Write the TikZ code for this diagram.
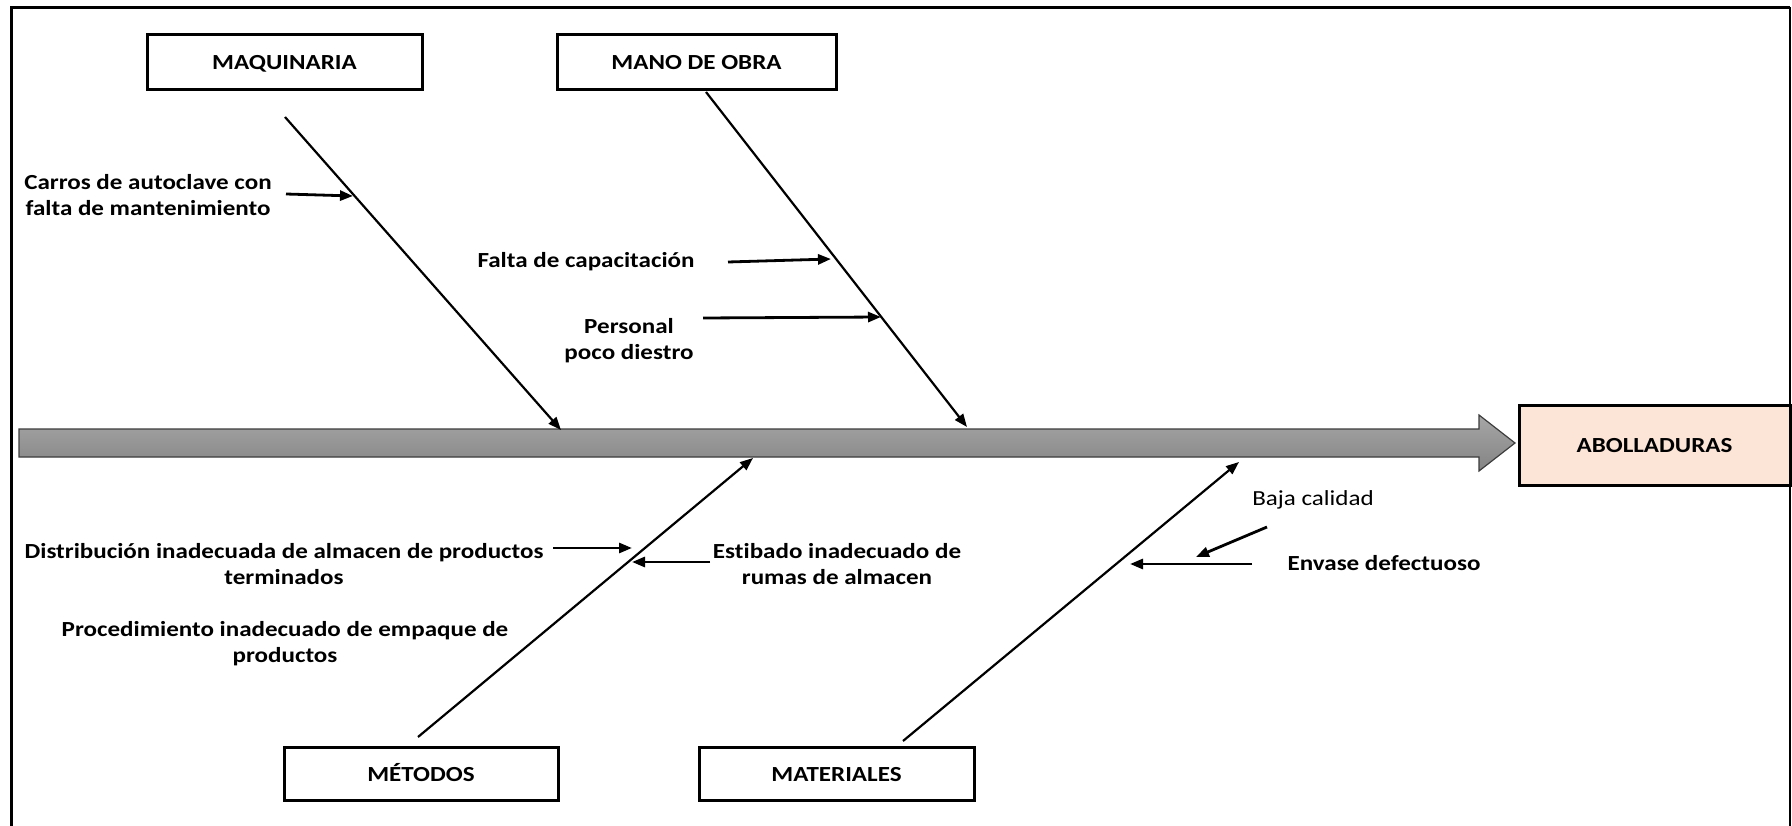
\documentclass[tikz,border=0pt]{standalone}
\usepackage{fontspec}
\setmainfont{Carlito}[FakeStretch=1.165, Ligatures=NoCommon]
\usetikzlibrary{arrows.meta}

\tikzset{
  every node/.style={font=\fontsize{21.5}{26.3}\selectfont, inner sep=0pt},
  catbox/.style={draw, line width=3pt, minimum width=#1, minimum height=55pt, text height=14pt, text depth=0pt, font=\fontsize{21.5}{26.3}\selectfont\bfseries},
  cause/.style={font=\fontsize{21.5}{26.3}\selectfont\bfseries, align=center},
  bone/.style={line width=2.2pt, -{Triangle[length=13pt,width=10pt]}},
  sub/.style={line width=2.8pt, -{Triangle[length=13pt,width=10pt]}},
}

\begin{document}
\begin{tikzpicture}[x=1pt,y=-1pt]
\useasboundingbox (0,0) rectangle (1792,826);

% open frame
\draw[line width=3pt] (11,826) -- (11,7.5) -- (1790,7.5);
\draw[line width=2pt] (1790,7.5) -- (1790,826);

% spine of the fishbone
\shade[top color={rgb,255:red,166;green,166;blue,166}, bottom color={rgb,255:red,132;green,132;blue,132}, draw={rgb,255:red,60;green,60;blue,60}, line width=1.2pt]
  (19,429) -- (1479,429) -- (1479,415) -- (1515,443) -- (1479,471) -- (1479,457) -- (19,457) -- cycle;

% effect
\node[draw, line width=3pt, fill={rgb,255:red,252;green,228;blue,214}, minimum width=271pt, minimum height=80pt, text height=14pt, text depth=0pt, font=\fontsize{21.5}{26.3}\selectfont\bfseries] (efecto) at (1654.5,445) {ABOLLADURAS};

% categories
\node[catbox=275pt] (maq) at (284.5,62.5) {MAQUINARIA};
\node[catbox=279pt] (mano) at (696.5,62.5) {MANO DE OBRA};
\node[catbox=274pt, minimum height=53pt] (met) at (421,774) {MÉTODOS};
\node[catbox=275pt, minimum height=53pt] (mat) at (836.5,774) {MATERIALES};

% bone end points
\coordinate (maqA) at (285,117);  \coordinate (maqB) at (561,430);
\coordinate (manoA) at (706,92);  \coordinate (manoB) at (967,427);
\coordinate (metA) at (418,737);  \coordinate (metB) at (753,458);
\coordinate (matA) at (903,741);  \coordinate (matB) at (1239,462);

\draw[bone] (maqA) -- (maqB);
\draw[bone] (manoA) -- (manoB);
\draw[bone] (metA) -- (metB);
\draw[bone] (matA) -- (matB);

% causes
\node[cause] (carros) at (148,195) {Carros de autoclave con\\falta de mantenimiento};
\node[cause] (falta) at (586,261.5) {Falta de capacitación};
\node[cause] (personal) at (629,340.5) {Personal\\poco diestro};
\node[cause] (distrib) at (284,564) {Distribución inadecuada de almacen de productos\\terminados};
\node[cause] (proc) at (285,643.5) {Procedimiento inadecuado de empaque de\\productos};
\node[cause] (estib) at (837,564) {Estibado inadecuado de\\rumas de almacen};
\node[align=center] (baja) at (1313,500) {Baja calidad};
\node[cause] (envase) at (1384,563) {Envase defectuoso};

% cause arrows
\coordinate (carrosA) at (286,194);  \coordinate (carrosB) at (353,196);
\coordinate (faltaA) at (728,262);   \coordinate (faltaB) at (831,259);
\coordinate (persA) at (703,318);    \coordinate (persB) at (881,317);
\coordinate (distA) at (553,548);    \coordinate (distB) at (632,548);
\coordinate (estA) at (710,562);     \coordinate (estB) at (632,562);
\coordinate (bajaA) at (1267,527);   \coordinate (bajaB) at (1196,557);
\coordinate (envA) at (1252,564);    \coordinate (envB) at (1130,564);

\draw[sub] (carrosA) -- (carrosB);
\draw[sub] (faltaA) -- (faltaB);
\draw[sub] (persA) -- (persB);
\draw[sub] (distA) -- (distB);
\draw[sub] (estA) -- (estB);
\draw[sub] (bajaA) -- (bajaB);
\draw[sub] (envA) -- (envB);
\end{tikzpicture}
\end{document}
